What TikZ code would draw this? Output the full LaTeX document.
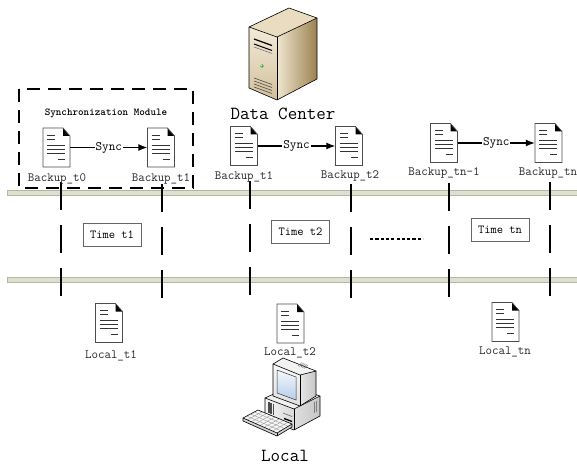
\documentclass[tikz,border=0pt]{standalone}
\usepackage{fontspec}
\usetikzlibrary{arrows.meta,calc}

\definecolor{barfill}{HTML}{DDE0CE}
\definecolor{barline}{HTML}{B5B9A2}
\definecolor{srvtop}{HTML}{E9DCC0}
\definecolor{srvfrontA}{HTML}{F3EADA}
\definecolor{srvfrontB}{HTML}{D2C09A}
\definecolor{srvsideA}{HTML}{EFE5CF}
\definecolor{srvsideB}{HTML}{9C8250}
\definecolor{scrA}{HTML}{F4F8FF}
\definecolor{scrB}{HTML}{B8CCEA}

\tikzset{
  doc/.pic={
    \fill[white] (-13.5,-19.5) -- (6.5,-19.5) -- (13.5,-11.5) -- (13.5,19.5) -- (-13.5,19.5) -- cycle;
    \fill[black] (6.5,-19.5) -- (13.5,-11.5) -- (6.5,-11.5) -- cycle;
    \draw[docedge] (-13.5,-19.5) -- (6.5,-19.5) -- (13.5,-11.5) -- (13.5,19.5) -- (-13.5,19.5) -- cycle;
    \draw[docline] (-9.5,-12.5) -- (-1.5,-12.5);
    \draw[docline] (-9.5,-8.5) -- (-1.5,-8.5);
    \draw[docline] (-9.5,-2.5) -- (8.5,-2.5);
    \draw[docline] (-9.5,1.5) -- (8.5,1.5);
    \draw[docline] (-9.5,5.5) -- (8.5,5.5);
    \draw[docline] (1.5,11.5) -- (8.5,11.5);
  }
}

\begin{document}
\begin{tikzpicture}[x=1pt,y=-1pt,
  lbl/.style={font=\ttfamily\fontsize{12.6}{14}\selectfont, inner sep=0pt, text=black!85},
  bigtxt/.style={font=\ttfamily\fontsize{18.5}{21}\selectfont, inner sep=0pt},
  modtxt/.style={font=\ttfamily\bfseries\fontsize{10.6}{12}\selectfont, inner sep=0pt},
  docbox/.style={minimum width=27pt, minimum height=39pt, inner sep=0pt},
  synclbl/.style={fill=white, font=\ttfamily\fontsize{12.8}{14}\selectfont, inner sep=1pt},
  syncarrow/.style={line width=1.3pt, -{Latex[length=9pt,width=7pt]}},
  timebox/.style={draw=black!60, line width=0.8pt, font=\ttfamily\fontsize{12.2}{14}\selectfont,
                  minimum width=58pt, minimum height=23pt, inner sep=0pt},
  barbody/.style={fill=barfill},
  baredge/.style={draw=barline, line width=0.7pt},
  tick/.style={line width=1.4pt, dash pattern=on 28pt off 15pt},
  modframe/.style={line width=1.3pt, dash pattern=on 13pt off 8pt},
  ellipsis/.style={line width=1.3pt, dash pattern=on 3.2pt off 2.1pt},
  docedge/.style={draw=black!70, line width=0.7pt},
  docline/.style={draw=black!80, line width=0.9pt},
  icon/.style={draw=black, line width=0.6pt, line join=round},
]
\useasboundingbox (0,0) rectangle (577,465);

% ---- time axis bars ----
\fill[barbody] (7,190) rectangle (577,195);
\draw[baredge] (577,190) -- (7,190) -- (7,195) -- (577,195);
\fill[barbody] (7,277) rectangle (577,282);
\draw[baredge] (577,277) -- (7,277) -- (7,282) -- (577,282);

% ---- period boundaries ----
\foreach \x/\y in {61/182, 162/184, 250/181, 351/184, 449/183, 550/182}
  \draw[tick] (\x,\y) -- (\x,298);

% ---- synchronization module frame ----
\draw[modframe] (19,89) rectangle (193,188);
\node[modtxt] (modname) at (106,113) {Synchronization Module};

% ---- server (data center) ----
\shade[left color=srvsideA, right color=srvsideB]
  (277,37) -- (317,18) -- (317,79) -- (277,100) -- cycle;
\shade[top color=srvfrontA, bottom color=srvfrontB]
  (249,27) -- (277,37) -- (277,100) -- (249,88) -- cycle;
\fill[srvtop] (249,27) -- (289,8) -- (317,18) -- (277,37) -- cycle;
\draw[icon] (249,27) -- (289,8) -- (317,18) -- (317,79) -- (277,100) -- (249,88) -- cycle;
\draw[icon] (249,27) -- (277,37) -- (317,18);
\draw[icon] (277,37) -- (277,100);
\draw[line width=1.2pt] (254,39) -- (272,45.5);
\draw[line width=1.0pt] (254,44) -- (272,50.5);
\draw[black!60, line width=0.5pt] (254,47) -- (272,53.5);
\fill[green!45!black!70] (262,66) circle (1.9);
\fill[green!30!white] (261.5,65.5) circle (0.8);
\foreach \d in {0,3,6,9}
  \draw[black!70, line width=0.6pt] (254,78+\d) -- (272,84.5+\d);
\node[bigtxt] (dc) at (283,114) {Data Center};

% ---- data-center backups ----
\node[docbox] (b0) at (56.5,147.5) {};
\node[docbox] (b1) at (161,147.5) {};
\node[docbox] (c1) at (244,146) {};
\node[docbox] (c2) at (349,146) {};
\node[docbox] (cn1) at (444,143) {};
\node[docbox] (cn) at (548.5,143) {};
\foreach \n in {b0,b1,c1,c2,cn1,cn} \pic at (\n) {doc};

\node[lbl] (lb0) at (57,179) {Backup\_t0};
\node[lbl] (lb1) at (161,179) {Backup\_t1};
\node[lbl] (lc1) at (244,177) {Backup\_t1};
\node[lbl] (lc2) at (350,176) {Backup\_t2};
\node[lbl] (lcn1) at (444,173) {Backup\_tn-1};
\node[lbl] (lcn) at (548,173) {Backup\_tn};

\draw[syncarrow] (b0.east) -- node[synclbl] {Sync} (b1.west);
\draw[syncarrow] (c1.east) -- node[synclbl] {Sync} (c2.west);
\draw[syncarrow] (cn1.east) -- node[synclbl] {Sync} (cn.west);

% ---- periods ----
\node[timebox] (tt1) at (112,234.5) {Time t1};
\node[timebox] (tt2) at (300.5,232) {Time t2};
\node[timebox] (ttn) at (500,230) {Time tn};
\coordinate (dotsL) at (370,239);
\coordinate (dotsR) at (423,239);
\draw[ellipsis] (dotsL) -- (dotsR);

% ---- local copies ----
\node[docbox] (l1) at (109,323) {};
\node[docbox] (l2) at (290.5,323.5) {};
\node[docbox] (ln) at (505.5,322) {};
\foreach \n in {l1,l2,ln} \pic at (\n) {doc};
\node[lbl] (ll1) at (111,356) {Local\_t1};
\node[lbl] (ll2) at (290,353) {Local\_t2};
\node[lbl] (lln) at (505,352) {Local\_tn};

% ---- local computer ----
% system case
\fill[gray!12] (265,398) -- (291,386) -- (320,396) -- (294,409) -- cycle;
\shade[left color=gray!8, right color=gray!30] (265,398) -- (294,409) -- (294,430) -- (265,419) -- cycle;
\shade[left color=gray!25, right color=gray!45] (294,409) -- (320,396) -- (320,416) -- (294,430) -- cycle;
\draw[icon] (265,398) -- (291,386) -- (320,396) -- (320,416) -- (294,430) -- (265,419) -- cycle;
\draw[icon] (265,398) -- (294,409) -- (320,396);
\draw[icon] (294,409) -- (294,430);
\foreach \d in {0,1.2,2.4,3.6,4.8}
  \draw[black!70, line width=0.4pt] (268+\d,402+0.38*\d) -- (268+\d,413+0.38*\d);
\draw[black!60, line width=0.6pt] (283,413) -- (292,416.5);
\draw[black, line width=1.3pt] (284,418.5) -- (292,421.5);
\draw[black!50, line width=0.4pt] (314,402) -- (314,413);
\draw[black!50, line width=0.4pt] (316,401) -- (316,412);
% monitor housing
\fill[gray!10] (273,364) -- (283,358) -- (316,371) -- (300,375) -- cycle;
\shade[left color=gray!20, right color=gray!45] (300,375) -- (316,371) -- (316,396) -- (300,406) -- cycle;
\shade[top color=gray!5, bottom color=gray!25] (273,364) -- (300,375) -- (300,406) -- (273,396) -- cycle;
\draw[icon] (273,364) -- (283,358) -- (316,371) -- (316,396) -- (300,406) -- (273,396) -- cycle;
\draw[icon] (273,364) -- (300,375) -- (316,371);
\draw[icon] (300,375) -- (300,406);
\foreach \d in {0,1.5,3,4.5,6}
  \draw[black!60, line width=0.4pt] (302+\d,362.5+0.4*\d) -- (298+\d,366+0.4*\d);
% screen
\shade[top color=scrA, bottom color=scrB] (277,370) -- (296,377) -- (296,400) -- (277,393) -- cycle;
\draw[black!80, line width=0.5pt] (277,370) -- (296,377) -- (296,400) -- (277,393) -- cycle;
% keyboard
\coordinate (ka) at (243,418);
\coordinate (kb) at (258,410);
\coordinate (kc) at (292,424);
\coordinate (kd) at (277,433);
\fill[gray!35] (ka) -- (kd) -- (kc) -- ($(kc)+(0,3)$) -- ($(kd)+(0,3)$) -- ($(ka)+(0,3)$) -- cycle;
\fill[gray!8] (ka) -- (kb) -- (kc) -- (kd) -- cycle;
\foreach \t in {0.25,0.5,0.75}
  \draw[black!40, line width=0.4pt] ($(ka)!\t!(kb)$) -- ($(kd)!\t!(kc)$);
\foreach \t in {0.125,0.25,0.375,0.5,0.625,0.75,0.875}
  \draw[black!40, line width=0.4pt] ($(ka)!\t!(kd)$) -- ($(kb)!\t!(kc)$);
\draw[icon] (ka) -- (kb) -- (kc) -- ($(kc)+(0,3)$) -- ($(kd)+(0,3)$) -- ($(ka)+(0,3)$) -- cycle;
\draw[icon] (ka) -- (kd) -- (kc);
\draw[icon] (kd) -- ($(kd)+(0,3)$);
\node[bigtxt, anchor=base] (loc) at (285,461) {Local};
\end{tikzpicture}
\end{document}
